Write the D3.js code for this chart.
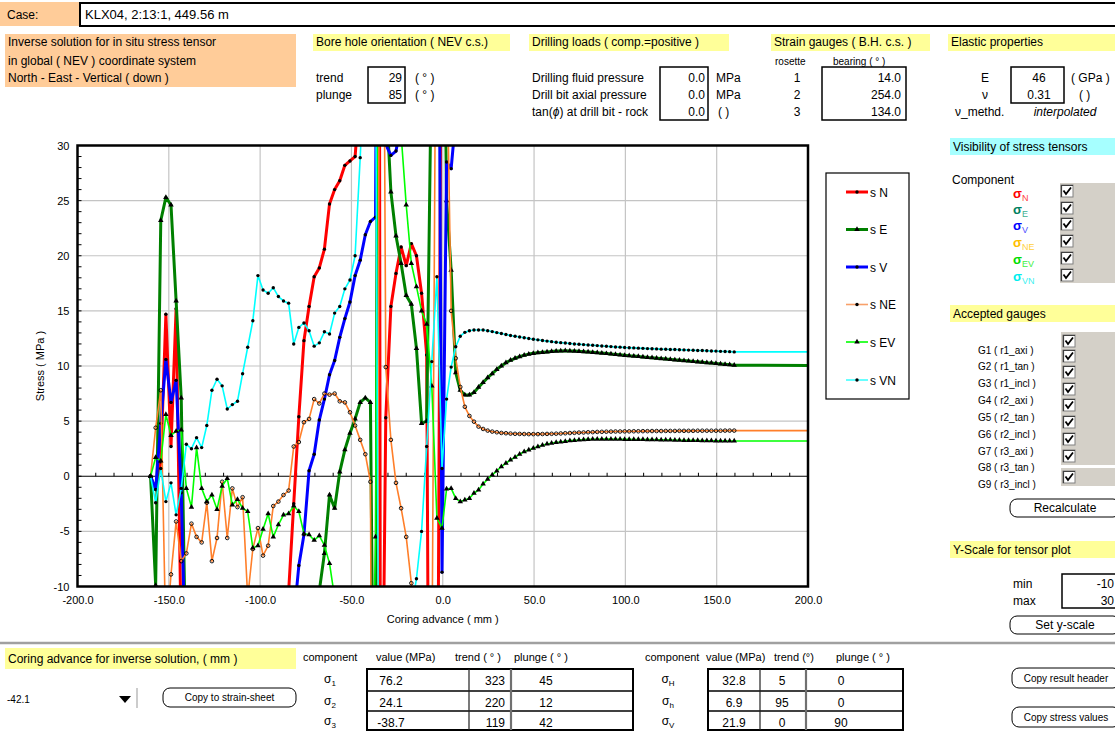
<!DOCTYPE html>
<html><head><meta charset="utf-8">
<script src="https://cdn.jsdelivr.net/npm/d3@7/dist/d3.min.js"></script>
<style>
html,body{margin:0;padding:0;background:#fff;}
svg text{font-family:"Liberation Sans",Arial,Helvetica,sans-serif;}
</style></head><body>
<svg id="chart" width="1115" height="731"></svg>
<script>
// ---------------- DATA ----------------
const advance = [-160.0,-157.2,-154.4,-151.6,-148.8,-146.0,-143.2,-140.4,-137.6,-134.8,-132.0,-129.2,-126.4,-123.6,-120.8,-118.0,-115.2,-112.4,-109.6,-106.8,-104.0,-101.2,-98.4,-95.6,-92.8,-90.0,-87.2,-84.4,-81.6,-78.8,-76.0,-73.2,-70.4,-67.6,-64.8,-62.0,-59.2,-56.4,-53.6,-50.8,-48.0,-45.2,-42.4,-39.6,-36.8,-34.0,-31.2,-28.4,-25.6,-22.8,-20.0,-17.2,-14.4,-11.6,-8.8,-6.0,-3.2,-0.4,2.1,4.6,7.1,9.6,12.1,14.6,17.1,19.6,22.1,24.6,27.1,29.6,32.1,34.6,37.1,39.6,42.1,44.6,47.1,49.6,52.1,54.6,57.1,59.6,62.1,64.6,67.1,69.6,72.1,74.6,77.1,79.6,82.1,84.6,87.1,89.6,92.1,94.6,97.1,99.6,102.1,104.6,107.1,109.6,112.1,114.6,117.1,119.6,122.1,124.6,127.1,129.6,132.1,134.6,137.1,139.6,142.1,144.6,147.1,149.6,152.1,154.6,157.1,159.6,200.0];
const n = null; // value off the plotted scale, not readable
const sigmaN = [0,-1.2,1.3,14.7,2.7,15.2,-15,n,n,n,n,n,n,n,n,n,n,n,n,n,n,n,n,n,n,n,n,-10.5,-2.5,5.4,12.3,15.4,18.1,18.9,20.6,24.7,26.0,26.8,28.2,28.6,29.0,35,n,n,300,-40,5.3,15.4,18.4,20.8,19.1,21.1,20.0,16.6,11.0,-80,-40,60,n,n,n,n,n,n,n,n,n,n,n,n,n,n,n,n,n,n,n,n,n,n,n,n,n,n,n,n,n,n,n,n,n,n,n,n,n,n,n,n,n,n,n,n,n,n,n,n,n,n,n,n,n,n,n,n,n,n,n,n,n];
const sigmaE = [0,-9.9,23.2,25.3,24.6,15.9,7.1,-20,n,n,n,n,n,n,n,n,n,n,n,n,n,n,n,n,n,n,n,n,n,n,n,n,n,-10.4,-7.0,-1.7,-2.9,0.4,2.4,3.9,5.2,6.7,7.1,6.7,-45,200,35,25.8,21.8,19.3,16.4,15.6,11.6,4.8,5.0,40,n,60,25.0,18.7,9.4,7.8,7.37,7.37,7.6,8.07,8.5,8.94,9.3,9.7,10.0,10.3,10.52,10.7,10.85,10.98,11.08,11.15,11.2,11.24,11.28,11.32,11.35,11.37,11.38,11.37,11.35,11.33,11.3,11.27,11.24,11.2,11.17,11.13,11.09,11.05,11.01,10.97,10.93,10.9,10.86,10.82,10.78,10.75,10.71,10.67,10.64,10.6,10.56,10.53,10.49,10.45,10.41,10.38,10.34,10.3,10.27,10.23,10.19,10.15,10.11,10.07,10.05];
const sigmaV = [0,-1.2,4.8,10.6,6.7,8.7,-1.5,-20,n,n,n,n,n,n,n,n,n,n,n,n,n,n,n,n,n,n,n,n,-13,-8.1,-5.3,0.5,2.0,5.1,7.0,9.2,10.5,12.6,14.3,15.8,18.2,19.6,21.9,23.1,23.5,120,30.1,29.1,29.5,32,n,n,n,n,n,n,80,-8.7,28.5,27.9,32.5,n,n,n,n,n,n,n,n,n,n,n,n,n,n,n,n,n,n,n,n,n,n,n,n,n,n,n,n,n,n,n,n,n,n,n,n,n,n,n,n,n,n,n,n,n,n,n,n,n,n,n,n,n,n,n,n,n,n,n,n,n,n,n];
const sigmaNE = [0,4.4,7.8,-15,-8.9,-4.1,-7.7,-7.0,-4.3,-5.5,-6.0,-2.4,-7.7,-5.6,-0.5,-5.6,-1.1,-2.8,-1.9,-11,-6.6,-4.7,-7.2,-6.3,-2.7,-2.3,-1.7,-1.3,2.7,3.1,4.9,5.2,7.0,6.6,7.5,7.4,7.5,6.8,6.7,5.8,4.6,3.3,2.0,-0.5,-100,100,9.9,3.3,-0.6,-2.9,-5.5,-9.7,-15,n,n,-20,60,n,40,15.0,10.7,8.1,6.3,5.47,4.95,4.5,4.29,4.14,4.05,3.99,3.93,3.9,3.87,3.85,3.84,3.83,3.82,3.82,3.82,3.83,3.84,3.85,3.86,3.88,3.9,3.92,3.94,3.96,3.97,3.99,4.0,4.02,4.03,4.04,4.05,4.06,4.06,4.07,4.07,4.08,4.08,4.09,4.09,4.1,4.1,4.1,4.11,4.11,4.11,4.12,4.12,4.12,4.12,4.13,4.13,4.13,4.13,4.13,4.13,4.14,4.14,4.14,4.14];
const sigmaEV = [0,1.7,1.4,5.6,3.7,4.1,4.2,-1.1,-2.8,2.6,-1.1,-2.3,-1.7,-3.0,-0.9,-0.2,-2.6,-2.1,-2.9,-3.2,-6.5,-6.3,-4.8,-3.4,-5.5,-4.4,-3.5,-3.4,-2.7,-3.2,-5.2,-5.3,-5.8,-5.4,-6.25,-7.9,-11,n,n,n,n,n,n,-30,-5.5,100,n,n,n,31,24.6,19.3,17.2,15.0,13.8,8.2,-3.8,-4.7,-1.15,-1.1,-2.0,-2.3,-2.15,-2.0,-1.54,-1.24,-0.7,-0.27,0.12,0.48,0.88,1.18,1.48,1.72,2.0,2.24,2.39,2.54,2.69,2.81,2.93,2.99,3.08,3.11,3.17,3.23,3.26,3.29,3.32,3.35,3.36,3.36,3.37,3.37,3.37,3.36,3.36,3.35,3.35,3.34,3.34,3.33,3.32,3.32,3.31,3.3,3.3,3.29,3.28,3.27,3.26,3.25,3.25,3.24,3.23,3.22,3.22,3.21,3.21,3.2,3.2,3.2,3.2];
const sigmaVN = [0,-2.4,0.7,-2.3,-0.6,-3.5,-1.1,2.9,2.5,3.5,2.6,4.6,7.8,8.8,8.2,6.1,6.5,6.8,9.3,11.7,14.1,18.2,16.9,16.6,17.1,16.3,15.9,15.7,12.0,13.5,13.9,13.2,11.8,12.1,13.1,12.9,14.8,15.4,17.0,17.8,20.0,28.9,40,n,40,-60,n,n,n,n,n,-12,-9.3,-5.0,2.7,10.4,18.1,0.7,7.0,9.9,11.75,12.7,13.05,13.2,13.26,13.27,13.26,13.2,13.12,13.03,12.95,12.86,12.77,12.7,12.63,12.56,12.49,12.43,12.37,12.31,12.26,12.21,12.16,12.12,12.08,12.04,12.0,11.97,11.94,11.91,11.88,11.85,11.82,11.79,11.76,11.73,11.71,11.68,11.66,11.64,11.62,11.6,11.58,11.56,11.55,11.53,11.52,11.5,11.49,11.47,11.46,11.44,11.43,11.41,11.4,11.38,11.36,11.35,11.33,11.31,11.3,11.28,11.28];
const xTickValues = [-200,-150,-100,-50,0,50,100,150,200];
const yTickValues = [-10,-5,0,5,10,15,20,25,30];
const legendLabels = ["s N","s E","s V","s NE","s EV","s VN"];
const principalLabels = ["1","2","3"];
const principalValue = ["76.2","24.1","-38.7"];
const principalTrend = ["323","220","119"];
const principalPlunge = ["45","12","42"];
const horizLabels = ["H","h","V"];
const horizValue = ["32.8","6.9","21.9"];
const horizTrend = ["5","95","0"];
const horizPlunge = ["0","0","90"];
const gaugeLabels = ["G1 ( r1_axi )","G2 ( r1_tan )","G3 ( r1_incl )","G4 ( r2_axi )","G5 ( r2_tan )","G6 ( r2_incl )","G7 ( r3_axi )","G8 ( r3_tan )","G9 ( r3_incl )"];
const componentSubs = ["N","E","V","NE","EV","VN"];

// ---------------- SETUP ----------------
const svg = d3.select("#chart");
const YEL = "#FFFF99", ORA = "#FFCC99", CYA = "#A6FFFF", GRY = "#D4D0C8";
function T(x, y, s, o = {}) {
  const t = svg.append("text").attr("x", x).attr("y", y).text(s)
    .attr("font-size", o.size || 12).attr("fill", o.fill || "#000");
  if (o.anchor) t.attr("text-anchor", o.anchor);
  if (o.italic) t.attr("font-style", "italic");
  if (o.weight) t.attr("font-weight", o.weight);
  return t;
}
function R(x, y, w, h, fill, stroke, sw, rx) {
  return svg.append("rect").attr("x", x).attr("y", y).attr("width", w).attr("height", h)
    .attr("fill", fill || "none").attr("stroke", stroke || "none").attr("stroke-width", sw || 1)
    .attr("rx", rx || 0);
}
function checkbox(x, y) {
  R(x, y, 12, 12, "#fff", "#808080", 1);
  svg.append("path").attr("d", `M${x+0.5},${y+12}V${y+0.5}H${x+12}`).attr("stroke", "#404040").attr("fill", "none").attr("stroke-width", 1.2);
  svg.append("path").attr("d", `M${x+2.5},${y+5.5} L${x+5},${y+9} L${x+10},${y+2.5}`).attr("stroke", "#000").attr("fill", "none").attr("stroke-width", 1.8);
}
function button(x, y, w, h, label, size) {
  R(x, y, w, h, "#fff", "#000", 1, 7);
  T(x + w / 2, y + h / 2 + (size || 12) * 0.36, label, { size: size || 12, anchor: "middle" });
}
function sigma(x, y, sub, o = {}) {
  const t = svg.append("text").attr("x", x).attr("y", y).attr("font-size", o.size || 12)
    .attr("fill", o.fill || "#000").attr("text-anchor", o.anchor || "start");
  t.append("tspan").text("σ").attr("font-weight", o.weight || "normal");
  t.append("tspan").text(sub).attr("font-size", o.subSize || 8).attr("dy", 3).attr("fill", o.subFill || o.fill || "#000");
  return t;
}

// ---------------- HEADER ----------------
R(0, 2, 80, 24, ORA);
T(7, 19, "Case:", { size: 12 });
R(80, 3, 1040, 23, "#fff", "#000", 2);
T(85, 19, "KLX04, 2:13:1, 449.56 m", { size: 13 });

R(5, 34, 291, 53, ORA);
T(8, 46, "Inverse solution for in situ stress tensor");
T(8, 65, "in global ( NEV ) coordinate system");
T(8, 82, "North - East - Vertical ( down )");

R(313, 34, 197, 17, YEL);
T(316, 46, "Bore hole orientation ( NEV c.s.)");
T(316, 82, "trend"); T(316, 99, "plunge");
R(368, 67, 37, 36, "#fff", "#000", 1.5);
T(402, 82, "29", { anchor: "end" }); T(402, 99, "85", { anchor: "end" });
T(415, 82, "( ° )"); T(415, 99, "( ° )");

R(529, 34, 200, 17, YEL);
T(532, 46, "Drilling loads ( comp.=positive )");
T(532, 82, "Drilling fluid pressure");
T(532, 99, "Drill bit axial pressure");
const tanT = T(532, 116, "tan(");
tanT.append("tspan").text("ϕ").attr("font-style", "italic");
tanT.append("tspan").text(") at drill bit - rock");
R(660, 67, 48, 53, "#fff", "#000", 1.5);
T(705, 82, "0.0", { anchor: "end" }); T(705, 99, "0.0", { anchor: "end" }); T(705, 116, "0.0", { anchor: "end" });
T(716, 82, "MPa"); T(716, 99, "MPa"); T(718, 116, "(   )");

R(771, 34, 159, 17, YEL);
T(774, 46, "Strain gauges ( B.H. c.s. )");
T(775, 65, "rosette", { size: 10 });
T(833, 65, "bearing ( ° )", { size: 10 });
R(822, 67, 84, 53, "#fff", "#000", 1.5);
T(797, 82, "1", { anchor: "middle" }); T(797, 99, "2", { anchor: "middle" }); T(797, 116, "3", { anchor: "middle" });
T(901, 82, "14.0", { anchor: "end" }); T(901, 99, "254.0", { anchor: "end" }); T(901, 116, "134.0", { anchor: "end" });

R(948, 34, 167, 17, YEL);
T(951, 46, "Elastic properties");
T(985, 82, "E", { anchor: "middle" }); T(985, 99, "ν", { anchor: "middle" });
T(955, 116, "ν_methd.");
R(1011, 67, 53, 36, "#fff", "#000", 1.5);
T(1039, 82, "46", { anchor: "middle" }); T(1039, 99, "0.31", { anchor: "middle" });
T(1071, 82, "( GPa )"); T(1079, 99, "(   )");
T(1065, 116, "interpolated", { anchor: "middle", italic: true });

// ---------------- CHART ----------------
const x = d3.scaleLinear().domain([-200, 200]).range([77.5, 808]);
const y = d3.scaleLinear().domain([-10, 30]).range([586.5, 145.5]);
const [x0, x1] = x.range(); const [y0, y1] = [y(30), y(-10)];

svg.append("defs").append("clipPath").attr("id", "plotclip")
  .append("rect").attr("x", x0).attr("y", y0).attr("width", x1 - x0).attr("height", y1 - y0);

// grid
const grid = svg.append("g");
grid.selectAll(".hg").data(yTickValues.filter(v => v !== 0 && v !== -10 && v !== 30)).join("line")
  .attr("x1", x0).attr("x2", x1).attr("y1", d => y(d)).attr("y2", d => y(d))
  .attr("stroke", "#c4c4c4").attr("stroke-width", 1.2);
grid.selectAll(".vg").data(xTickValues.filter(v => v > -200 && v < 200)).join("line")
  .attr("y1", y0).attr("y2", y1).attr("x1", d => x(d)).attr("x2", d => x(d))
  .attr("stroke", "#c4c4c4").attr("stroke-width", 1.2);

// zero line with ticks
svg.append("line").attr("x1", x0).attr("x2", x1).attr("y1", y(0)).attr("y2", y(0)).attr("stroke", "#000").attr("stroke-width", 1);
svg.append("g").selectAll("line").data(d3.range(-190, 200, 10)).join("line")
  .attr("x1", d => x(d)).attr("x2", d => x(d)).attr("y1", y(0)).attr("y2", y(0) - 3.5)
  .attr("stroke", "#000").attr("stroke-width", 1);
// minor y ticks
svg.append("g").selectAll("line").data(d3.range(-10, 31, 1)).join("line")
  .attr("x1", x0).attr("x2", x0 + 4).attr("y1", d => y(d)).attr("y2", d => y(d))
  .attr("stroke", "#000").attr("stroke-width", 1);

// axes labels via d3 axes (plain hyphen-minus as in the reference)
const yAxis = d3.axisLeft(y).tickValues(yTickValues).tickSize(0).tickPadding(8).tickFormat(d => String(d));
const gy = svg.append("g").attr("transform", `translate(${x0},0)`).call(yAxis);
gy.select(".domain").remove();
gy.selectAll("text").attr("font-size", 11).attr("fill", "#000").attr("font-family", '"Liberation Sans",Arial,sans-serif');
const xAxis = d3.axisBottom(x).tickValues(xTickValues).tickSize(0).tickPadding(10).tickFormat(d => d.toFixed(1));
const gx = svg.append("g").attr("transform", `translate(0,${y1})`).call(xAxis);
gx.select(".domain").remove();
gx.selectAll("text").attr("font-size", 11).attr("fill", "#000").attr("font-family", '"Liberation Sans",Arial,sans-serif');

T((x0 + x1) / 2, 623, "Coring advance ( mm )", { size: 11, anchor: "middle" });
svg.append("text").attr("transform", "translate(44,366) rotate(-90)").attr("text-anchor", "middle")
  .attr("font-size", 11).text("Stress ( MPa )");

// series
const series = [
  { vals: sigmaN, color: "#FF0000", w: 3, mk: "dot" },
  { vals: sigmaE, color: "#008000", w: 3, mk: "tri" },
  { vals: sigmaV, color: "#0000FF", w: 3, mk: "dot" },
  { vals: sigmaNE, color: "#FF7F2A", w: 1.6, mk: "ring" },
  { vals: sigmaEV, color: "#00FF00", w: 1.6, mk: "tri" },
  { vals: sigmaVN, color: "#00FFFF", w: 1.6, mk: "dot" }
];
const legendColors = ["#FF0000", "#008000", "#0000FF", "#F8A06A", "#00FF00", "#40FFFF"];
const plot = svg.append("g").attr("clip-path", "url(#plotclip)");
const triangle = d3.symbol().type(d3.symbolTriangle).size(13);
const lastMarked = advance.length - 2;
function drawMarker(g, mk, cx, cy) {
  if (mk === "dot") g.append("circle").attr("cx", cx).attr("cy", cy).attr("r", 1.7).attr("fill", "#000");
  else if (mk === "ring") g.append("circle").attr("cx", cx).attr("cy", cy).attr("r", 1.8).attr("fill", "none").attr("stroke", "#000").attr("stroke-width", 0.9);
  else g.append("path").attr("d", triangle).attr("transform", `translate(${cx},${cy})`).attr("fill", "#000");
}
series.forEach(s => {
  const line = d3.line().defined(d => d !== null).x((d, i) => x(advance[i])).y(d => y(d));
  plot.append("path").datum(s.vals).attr("d", line).attr("fill", "none")
    .attr("stroke", s.color).attr("stroke-width", s.w).attr("stroke-linejoin", "round");
  const mg = plot.append("g");
  s.vals.forEach((v, i) => {
    if (v === null || i > lastMarked) return;
    if (v < -10.5 || v > 30.5) return;
    drawMarker(mg, s.mk, x(advance[i]), y(v));
  });
});

// frame
svg.append("rect").attr("x", x0).attr("y", y0).attr("width", x1 - x0).attr("height", y1 - y0)
  .attr("fill", "none").attr("stroke", "#000").attr("stroke-width", 2.5);

// legend
R(826, 173, 83, 226, "#fff", "#000", 1.2);
const legY = [192, 229.5, 267, 304.5, 342, 380];
series.forEach((s, i) => {
  svg.append("line").attr("x1", 846).attr("x2", 868).attr("y1", legY[i]).attr("y2", legY[i])
    .attr("stroke", legendColors[i]).attr("stroke-width", s.w);
  drawMarker(svg, s.mk === "ring" ? "dot" : s.mk, 857, legY[i]);
  T(870, legY[i] + 4.5, legendLabels[i], { size: 12 });
});

// ---------------- RIGHT PANEL ----------------
R(950, 138, 165, 17, CYA);
T(953, 151, "Visibility of stress tensors");
T(952, 184, "Component");
const compColors = ["#FF0000", "#008060", "#0000FF", "#FFC000", "#00DD00", "#00EEEE"];
const compSubColors = ["#FF4040", "#40B090", "#5050FF", "#FFD040", "#40F040", "#40F0F0"];
const compY = [198, 214, 230, 247, 264, 281];
R(1060, 183, 55, 100, GRY);
componentSubs.forEach((c, i) => {
  sigma(1013, compY[i], c, { size: 13, weight: "bold", fill: compColors[i], subFill: compSubColors[i], subSize: 9 });
  checkbox(1061, [185, 202, 218, 235, 252, 269][i]);
});

R(950, 305, 165, 17, YEL);
T(953, 318, "Accepted gauges");
R(1061, 332, 54, 133, GRY);
R(1061, 468, 54, 18, GRY);
const gaugeBoxY = [335, 350, 366, 383, 399, 416, 433, 450, 471];
const gaugeTextY = [354, 370, 387, 404, 421, 438, 455, 471, 488];
gaugeLabels.forEach((g, i) => {
  T(978, gaugeTextY[i], g, { size: 10 });
  checkbox(1063, gaugeBoxY[i]);
});
button(1010, 499, 110, 18, "Recalculate", 12);

R(950, 541, 165, 17, YEL);
T(953, 554, "Y-Scale for tensor plot");
T(1013, 588, "min"); T(1013, 605, "max");
R(1062, 574, 60, 34, "#fff", "#000", 1.5);
T(1114, 588, "-10", { anchor: "end" }); T(1114, 605, "30", { anchor: "end" });
button(1010, 616, 110, 18, "Set y-scale", 12);

// ---------------- BOTTOM ----------------
svg.append("line").attr("x1", 0).attr("x2", 1115).attr("y1", 643).attr("y2", 643).attr("stroke", "#A0A0A0").attr("stroke-width", 2.5);
R(5, 648, 291, 21, YEL);
T(8, 663, "Coring advance for inverse solution, ( mm )");
T(7, 703, "-42.1", { size: 10 });
svg.append("path").attr("d", "M119,696 L131,696 L125,703 Z").attr("fill", "#000");
svg.append("line").attr("x1", 137).attr("x2", 137).attr("y1", 688).attr("y2", 708).attr("stroke", "#999").attr("stroke-width", 1);
button(163, 688, 133, 19, "Copy to strain-sheet", 10);

function table(x0t, colsX, labelX, labels, colTexts, headers) {
  headers.forEach(h => T(h[0], 661, h[1], { size: 11 }));
  const rowsY = [669, 691, 711, 730];
  R(x0t, 669, colsX[colsX.length - 1] - x0t, 61, "#fff", "#000", 2);
  [691, 711].forEach(yy => svg.append("line").attr("x1", x0t).attr("x2", colsX[colsX.length - 1]).attr("y1", yy).attr("y2", yy).attr("stroke", "#000").attr("stroke-width", 1.5));
  colsX.slice(0, -1).forEach((cx, k) => svg.append("line").attr("x1", cx).attr("x2", cx).attr("y1", 669).attr("y2", 730)
    .attr("stroke", k === 0 ? "#202020" : "#707070").attr("stroke-width", k === 0 ? 1.2 : 2.2));
  labels.forEach((lb, r) => {
    sigma(labelX, rowsY[r] + 14, lb, { size: 12, anchor: "middle", subSize: 8 });
    colTexts.forEach(ct => T(ct.x, rowsY[r] + 15.5, ct.vals[r], { anchor: ct.anchor || "middle", size: 12 }));
  });
}
table(367, [469, 511, 633], 330, principalLabels,
  [{ x: 391, vals: principalValue }, { x: 505, vals: principalTrend, anchor: "end" }, { x: 546, vals: principalPlunge }],
  [[303, "component"], [376, "value (MPa)"], [455, "trend ( ° )"], [514, "plunge ( ° )"]]);
table(708, [760, 806, 903], 668, horizLabels,
  [{ x: 734, vals: horizValue }, { x: 782, vals: horizTrend }, { x: 841, vals: horizPlunge }],
  [[645, "component"], [706, "value (MPa)"], [774, "trend (°)"], [836, "plunge ( ° )"]]);

button(1012, 668, 108, 20, "Copy result header", 10);
button(1012, 707, 108, 20, "Copy stress values", 10);
</script></body></html>
